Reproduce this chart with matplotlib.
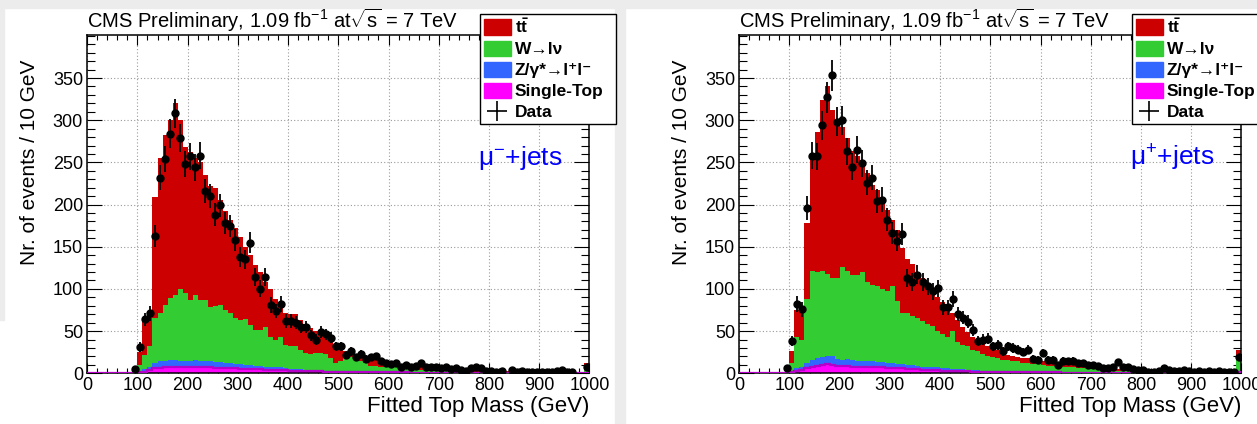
import numpy as np
import matplotlib.pyplot as plt
from matplotlib.patches import Patch, Rectangle
from matplotlib.lines import Line2D

plt.rcParams['font.family'] = ['Liberation Sans', 'DejaVu Sans']
plt.rcParams['mathtext.fontset'] = 'custom'
plt.rcParams['mathtext.rm'] = 'Liberation Sans'
plt.rcParams['mathtext.it'] = 'Liberation Sans:italic'
plt.rcParams['mathtext.bf'] = 'Liberation Sans:bold'

# fitted top mass, 10 GeV bins from 0 to 1000 GeV
edges = np.arange(0, 1001, 10)

# mu- + jets: expected events per bin for each process
minus_tt = [0, 0, 0, 0, 0, 0, 0, 0, 0, 1,
            15, 40, 40, 144, 184, 202, 211, 227, 200, 173,
            175, 162, 163, 148, 143, 140, 124, 117, 111, 107,
            99, 86, 83, 77, 69, 53, 57, 48, 37, 38,
            38, 38, 35, 34, 31, 26, 22, 20, 20, 21,
            14, 6, 6, 5, 7, 7, 9, 7, 7, 6,
            6, 5, 5, 4, 4, 4, 4, 4, 3, 4,
            3, 3, 2, 3, 3, 2, 2, 2, 1, 2,
            2, 2, 2, 2, 1, 1, 1, 1, 1, 1,
            1, 0.3, 0.3, 0.3, 0.3, 0.3, 0.3, 0.3, 0.3, 7]
minus_w = [0, 0, 0, 0, 0, 0, 0, 0, 0, 0.5,
           8, 17, 25, 53, 57, 66, 73, 77, 85, 81,
           72, 77, 72, 73, 65, 67, 68, 63, 59, 54,
           52, 54, 47, 42, 42, 47, 35, 33, 36, 28,
           27, 27, 23, 20, 19, 20, 20, 20, 15, 9,
           11, 17, 17, 16, 12, 10, 7, 7, 6, 6.5,
           6, 6, 5, 5, 4, 4, 3, 3, 3, 2,
           2, 2.5, 2.5, 1.5, 1.5, 1.5, 1.5, 1.5, 1.5, 0.5,
           0.6, 0.6, 0.6, 0.6, 0.6, 0.6, 0.6, 0.6, 0.6, 0.6,
           0.5, 0.5, 0.5, 0.5, 0.5, 0.5, 0.5, 0.5, 0.5, 4]
minus_z = [0, 0, 0, 0, 0, 0, 0, 0, 0, 0.2,
           1, 3, 3, 6, 8, 7, 8, 8, 7, 7,
           8, 9, 8, 7, 7, 7, 7, 6, 6, 5,
           6, 5, 5, 4, 4, 4, 4, 3, 3, 2,
           2, 2, 2, 1, 1, 1, 1, 1, 1, 1,
           1, 1, 1, 1, 1, 1, 1, 1, 1, 0.5,
           0.5, 0.5, 0.5, 0.5, 0.5, 0.5, 0.5, 0.5, 0.5, 0.5,
           0.5, 0.2, 0.2, 0.2, 0.2, 0.2, 0.2, 0.2, 0.2, 0.2,
           0.2, 0.2, 0.2, 0.2, 0.2, 0.2, 0.2, 0.2, 0.2, 0.2,
           0.1, 0.1, 0.1, 0.1, 0.1, 0.1, 0.1, 0.1, 0.1, 0.5]
minus_st = [0, 0, 0, 0, 0, 0, 0, 0, 0, 0.3,
            1, 2, 4, 6, 6, 8, 8, 8, 8, 7,
            7, 7, 7, 7, 7, 6, 6, 6, 6, 6,
            5, 5, 5, 5, 5, 4, 4, 4, 4, 4,
            3, 3, 3, 3, 3, 3, 3, 2, 2, 2,
            2, 2, 1, 1, 1, 1, 1, 1, 1, 1,
            1, 1, 1, 1, 0.5, 0.5, 0.5, 0.5, 0.5, 0.5,
            0.5, 0.3, 0.3, 0.3, 0.3, 0.3, 0.3, 0.3, 0.3, 0.3,
            0.2, 0.2, 0.2, 0.2, 0.2, 0.2, 0.2, 0.2, 0.2, 0.2,
            0.1, 0.1, 0.1, 0.1, 0.1, 0.1, 0.1, 0.1, 0.1, 0.5]
minus_data = [0, 0, 0, 0, 0, 0, 0, 0, 0, 5,
              31, 64, 71, 163, 232, 254, 284, 308, 279, 248,
              257, 244, 258, 216, 210, 188, 199, 178, 175, 158,
              138, 135, 155, 114, 100, 114, 81, 74, 82, 62,
              62, 60, 55, 55, 45, 40, 49, 46, 42, 32,
              32, 22, 26, 19, 23, 17, 19, 20, 14, 12,
              11, 12, 8, 10, 7, 9, 12, 8, 7, 8,
              6, 7, 5, 6, 4, 3, 6, 7, 6, 3,
              3, 2, 3, 0, 4, 2, 3, 2, 2, 1,
              2, 2, 1, 3, 4, 2, 1, 0, 0, 8]

# mu+ + jets
plus_tt = [0, 0, 0, 0, 0, 0, 0, 0, 0, 0.4,
           14, 32, 34, 90, 138, 166, 203, 223, 199, 187,
           166, 158, 146, 140, 128, 129, 118, 113, 104, 97,
           78, 84, 77, 65, 62, 54, 51, 49, 45, 41,
           38, 34, 21, 26, 21, 17, 15, 14, 13, 11,
           11, 10, 8, 6, 7, 5, 6, 6, 5, 4,
           4, 4, 4, 4, 3, 3, 3, 3, 2, 3,
           2, 3, 2, 2, 2, 2, 2, 1, 2, 2,
           1, 1, 1, 1, 1, 1, 1, 1, 1, 1,
           0.7, 0.7, 0.7, 0.7, 0.7, 0.7, 0.7, 0.7, 0.7, 10]
plus_w = [0, 0, 0, 0, 0, 0, 0, 0, 0, 0.3,
          10, 37, 33, 76, 105, 102, 102, 98, 92, 96,
          110, 104, 101, 102, 105, 94, 91, 91, 87, 85,
          92, 75, 60, 61, 58, 56, 54, 50, 49, 43,
          41, 37, 45, 32, 29, 28, 24, 22, 20, 18,
          16, 15, 14, 14, 12, 12, 10, 10, 9, 9,
          8.5, 7.5, 7.5, 6.5, 7, 6, 6, 5, 5, 4,
          4, 3.5, 3.5, 3.5, 2.5, 2.5, 2.5, 2.5, 1.5, 1.5,
          1.6, 1.5, 1.5, 1.5, 1.5, 1.5, 1.5, 1.5, 1.5, 1.5,
          0.8, 0.8, 0.8, 0.8, 0.8, 0.8, 0.8, 0.8, 0.8, 16]
plus_z = [0, 0, 0, 0, 0, 0, 0, 0, 0, 0.1,
          1, 3, 3, 6, 8, 9, 9, 9, 11, 8,
          7, 8, 8, 7, 7, 6, 7, 6, 6, 6,
          6, 5, 5, 5, 5, 4, 4, 4, 3, 3,
          3, 3, 2, 2, 2, 1, 2, 2, 1, 1,
          1, 1, 1, 1, 1, 1, 1, 1, 1, 1,
          0.5, 0.5, 0.5, 0.5, 0.5, 0.5, 0.5, 0.5, 0.5, 0.5,
          0.5, 0.2, 0.2, 0.2, 0.2, 0.2, 0.2, 0.2, 0.2, 0.2,
          0.2, 0.2, 0.2, 0.2, 0.2, 0.2, 0.2, 0.2, 0.2, 0.2,
          0.1, 0.1, 0.1, 0.1, 0.1, 0.1, 0.1, 0.1, 0.1, 1]
plus_st = [0, 0, 0, 0, 0, 0, 0, 0, 0, 0.2,
           1, 3, 4, 6, 8, 9, 10, 11, 10, 9,
           9, 9, 8, 8, 8, 8, 7, 7, 7, 6,
           6, 6, 6, 5, 5, 5, 4, 4, 4, 4,
           3, 3, 3, 3, 3, 3, 2, 2, 2, 2,
           2, 2, 1, 1, 1, 1, 1, 1, 1, 1,
           1, 1, 1, 1, 0.5, 0.5, 0.5, 0.5, 0.5, 0.5,
           0.5, 0.3, 0.3, 0.3, 0.3, 0.3, 0.3, 0.3, 0.3, 0.3,
           0.2, 0.2, 0.2, 0.2, 0.2, 0.2, 0.2, 0.2, 0.2, 0.2,
           0.1, 0.1, 0.1, 0.1, 0.1, 0.1, 0.1, 0.1, 0.1, 1]
plus_data = [0, 0, 0, 0, 0, 0, 0, 0, 0, 6,
             38, 82, 76, 196, 258, 257, 294, 327, 353, 298,
             300, 263, 245, 265, 249, 226, 232, 204, 206, 182,
             166, 157, 165, 113, 108, 117, 108, 103, 97, 101,
             78, 78, 88, 70, 66, 61, 51, 38, 40, 41,
             32, 34, 26, 32, 30, 28, 25, 28, 17, 16,
             24, 16, 16, 10, 15, 14, 15, 12, 12, 10,
             10, 9, 6, 6, 8, 13, 7, 8, 5, 4,
             4, 2, 2, 3, 6, 4, 3, 3, 4, 3,
             2, 3, 2, 3, 2, 3, 2, 2, 1, 19]

labels = [r'$\mathbf{t\bar{t}}$', 'W\u2192l\u03bd', 'Z/\u03b3*\u2192l\u207al\u207b',
          'Single-Top', 'Data']
C_TT = '#cc0000'
C_W = '#33cc33'
C_Z = '#3366ff'
C_ST = '#ff00ff'

W, H = 1257, 424
fig = plt.figure(figsize=(W / 100, H / 100), dpi=100)

# page background behind the two canvases
for rect in [(0, 1 - 8 / H, 1, 8 / H),
             (615 / W, 0, 10 / W, 1),
             (0, 1 - 320 / H, 4 / W, 320 / H)]:
    fig.patches.append(Rectangle(rect[:2], rect[2], rect[3], transform=fig.transFigure,
                                 color='#ececec', zorder=-10))


def draw_panel(x0, tt, wj, zj, st, data, channel):
    ax = fig.add_axes([x0 / W, 1 - 373.3 / H, 502.2 / W, 338.3 / H])
    st = np.array(st, float)
    z_top = st + np.array(zj)
    w_top = z_top + np.array(wj)
    total = w_top + np.array(tt)

    # stacked histogram, each level filled down to zero
    ax.stairs(total, edges, fill=True, color=C_TT, lw=0, zorder=2)
    ax.stairs(w_top, edges, fill=True, color=C_W, lw=0, zorder=2)
    ax.stairs(z_top, edges, fill=True, color=C_Z, lw=0, zorder=2)
    ax.stairs(st, edges, fill=True, color=C_ST, lw=0, zorder=2)
    ax.stairs(st, edges, color='#b400c8', lw=1.6, zorder=3)

    data = np.array(data, float)
    centers = 0.5 * (edges[:-1] + edges[1:])
    m = data > 0
    ax.errorbar(centers[m], data[m], yerr=np.sqrt(data[m]), xerr=5, fmt='o',
                color='k', ms=5, elinewidth=1.3, capsize=0, zorder=4)

    ax.set_xlim(0, 1000)
    ax.set_ylim(0, 401)
    ax.set_xticks(np.arange(0, 1001, 100))
    ax.set_xticks(np.arange(0, 1001, 20), minor=True)
    ax.set_yticks(np.arange(0, 351, 50))
    ax.set_yticks(np.arange(0, 401, 10), minor=True)
    ax.grid(True, which='major', color='#9a9a9a', ls=(0, (1, 2)), lw=0.8, zorder=0)
    ax.set_axisbelow(True)
    ax.tick_params(which='both', direction='in', top=True, right=True,
                   labelsize=13, pad=3, width=0.8)
    ax.tick_params(axis='y', which='major', length=11)
    ax.tick_params(axis='y', which='minor', length=5.5)
    ax.tick_params(axis='x', which='major', length=7)
    ax.tick_params(axis='x', which='minor', length=3.5)
    for sp in ax.spines.values():
        sp.set_linewidth(1.1)

    ax.text(778, 255, channel, color='#0000ff', fontsize=19, va='center')

    fig.text(x0 / W, 1 - 28 / H,
             r'CMS Preliminary, 1.09 fb$^{\mathregular{-1}}$ at$\sqrt{\mathrm{s}}$ = 7 TeV',
             fontsize=14.5, va='baseline', ha='left')
    fig.text((x0 + 502.2) / W, 1 - 411.7 / H, 'Fitted Top Mass (GeV)',
             fontsize=16, ha='right', va='baseline')
    fig.text((x0 - 58) / W, 1 - 60 / H, 'Nr. of events / 10 GeV', rotation=90,
             fontsize=15, ha='center', va='top')

    handles = [Patch(color=C_TT), Patch(color=C_W), Patch(color=C_Z), Patch(color=C_ST),
               Line2D([], [], color='k', marker='+', ls='none', ms=15, mew=1.2)]
    leg = ax.legend(handles, labels, loc='upper left', mode='expand',
                    bbox_to_anchor=((x0 + 393) / W, 1 - 126 / H, 136 / W, 112 / H),
                    bbox_transform=fig.transFigure,
                    fancybox=False, edgecolor='k', framealpha=1, borderpad=0.2,
                    labelspacing=0.25, handlelength=1.55, handleheight=1.0,
                    handletextpad=0.25, borderaxespad=0,
                    prop=dict(weight='bold', size=12.5))
    leg.get_frame().set_linewidth(1.0)
    return ax


draw_panel(87.2, minus_tt, minus_w, minus_z, minus_st, minus_data, '\u03bc$^{-}$+jets')
draw_panel(739.2, plus_tt, plus_w, plus_z, plus_st, plus_data, '\u03bc$^{+}$+jets')

fig.savefig('out.png', dpi=100)
